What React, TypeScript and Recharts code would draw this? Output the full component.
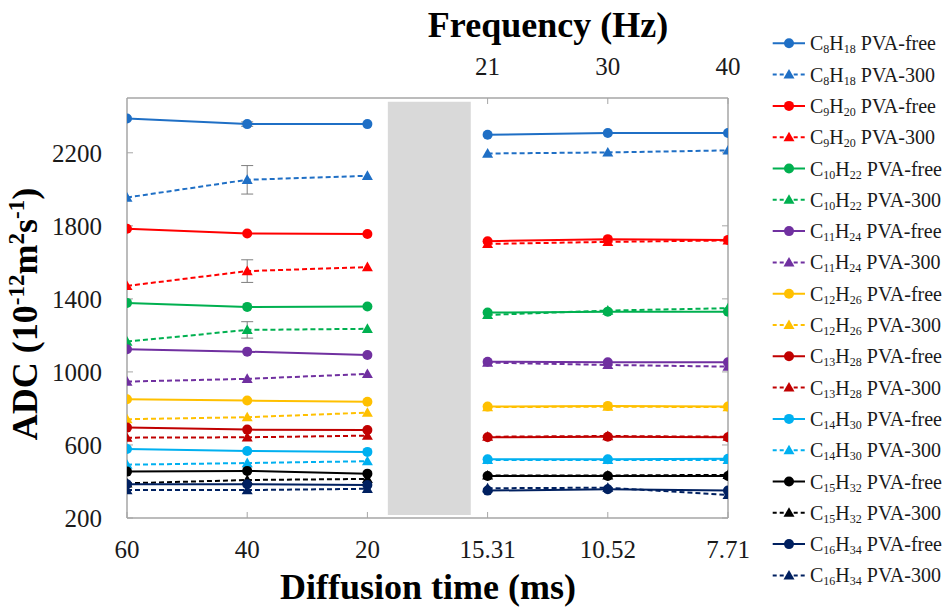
import React from 'react';
import { LineChart, Line, XAxis, YAxis, ReferenceArea, ErrorBar, Legend, Label } from 'recharts';

const diffusionTimes = ['60', '40', '20', '15.31', '10.52', '7.71'];
const frequencies = ['21', '30', '40'];
const yTicks = [200, 600, 1000, 1400, 1800, 2200];

const c8Free = [2388, 2357, 2357, 2299, 2308, 2308];
const c8Pva = [1955, 2052, 2074, 2196, 2202, 2213];
const c9Free = [1784, 1758, 1755, 1716, 1727, 1723];
const c9Pva = [1471, 1552, 1574, 1701, 1712, 1720];
const c10Free = [1378, 1356, 1358, 1325, 1330, 1330];
const c10Pva = [1166, 1230, 1236, 1312, 1336, 1349];
const c11Free = [1124, 1111, 1093, 1056, 1053, 1053];
const c11Pva = [947, 962, 989, 1051, 1038, 1029];
const c12Free = [850, 843, 837, 810, 814, 810];
const c12Pva = [741, 752, 777, 807, 810, 807];
const c13Free = [695, 684, 682, 642, 645, 642];
const c13Pva = [640, 642, 651, 645, 649, 645];
const c14Free = [578, 567, 562, 522, 522, 524];
const c14Pva = [492, 501, 511, 518, 518, 518];
const c15Free = [454, 458, 443, 430, 430, 430];
const c15Pva = [390, 408, 414, 433, 433, 436];
const c16Free = [385, 385, 381, 350, 357, 350];
const c16Pva = [353, 353, 360, 363, 366, 326];

const c8FreeErr = [null, 12, null, null, null, null];
const c8PvaErr = [null, 78, null, null, null, null];
const c9PvaErr = [null, 62, null, null, null, null];
const c10PvaErr = [null, 45, null, null, null, null];

const compounds = [
  { c: '8', h: '18', color: '#1F6FC5', free: c8Free, pva: c8Pva, freeErr: c8FreeErr, pvaErr: c8PvaErr },
  { c: '9', h: '20', color: '#FF0000', free: c9Free, pva: c9Pva, freeErr: null, pvaErr: c9PvaErr },
  { c: '10', h: '22', color: '#00B050', free: c10Free, pva: c10Pva, freeErr: null, pvaErr: c10PvaErr },
  { c: '11', h: '24', color: '#7030A0', free: c11Free, pva: c11Pva, freeErr: null, pvaErr: null },
  { c: '12', h: '26', color: '#FFC000', free: c12Free, pva: c12Pva, freeErr: null, pvaErr: null },
  { c: '13', h: '28', color: '#C00000', free: c13Free, pva: c13Pva, freeErr: null, pvaErr: null },
  { c: '14', h: '30', color: '#00B0F0', free: c14Free, pva: c14Pva, freeErr: null, pvaErr: null },
  { c: '15', h: '32', color: '#000000', free: c15Free, pva: c15Pva, freeErr: null, pvaErr: null },
  { c: '16', h: '34', color: '#002060', free: c16Free, pva: c16Pva, freeErr: null, pvaErr: null },
];

type Series = { key: string; c: string; h: string; color: string; kind: 'free' | 'pva'; values: number[]; err: (number | null)[] | null };
const series: Series[] = [];
compounds.forEach((cp) => {
  series.push({ key: `c${cp.c}free`, c: cp.c, h: cp.h, color: cp.color, kind: 'free', values: cp.free, err: cp.freeErr });
  series.push({ key: `c${cp.c}pva`, c: cp.c, h: cp.h, color: cp.color, kind: 'pva', values: cp.pva, err: cp.pvaErr });
});

const data: any[] = [];
diffusionTimes.forEach((_, i) => {
  if (i === 3) data.push({ x: 2.5 });
  const row: any = { x: i };
  series.forEach((s) => {
    row[s.key] = s.values[i];
    if (s.err && s.err[i] != null) row[s.key + '_e'] = s.err[i];
  });
  data.push(row);
});

const FONT = '"Liberation Serif", "Times New Roman", serif';
const AXIS = '#A6A6A6';
const TICK = { fill: '#1A1A1A', fontSize: 25, fontFamily: FONT };

const makeDot = (color: string, kind: 'free' | 'pva') => (props: any) => {
  const { cx, cy, index } = props;
  if (cx == null || cy == null || isNaN(cy)) return <g key={`d-${index}`} />;
  if (kind === 'free') return <circle key={`d-${index}`} cx={cx} cy={cy} r={5} fill={color} stroke="none" />;
  const s = 5.5;
  return <path key={`d-${index}`} d={`M${cx},${cy - s} L${cx + s},${cy + s * 0.75} L${cx - s},${cy + s * 0.75} Z`} fill={color} stroke="none" />;
};

const renderLegend = () => (
  <svg width={189} height={580} style={{ fontFamily: FONT }}>
    {series.map((s, i) => {
      const cy = 17.3 + i * 31.3;
      return (
        <g key={s.key}>
          <line x1={12.7} x2={45} y1={cy} y2={cy} stroke={s.color} strokeWidth={2} strokeDasharray={s.kind === 'pva' ? '4 3' : undefined} />
          {s.kind === 'free' ? (
            <circle cx={29} cy={cy} r={5} fill={s.color} />
          ) : (
            <path d={`M29,${cy - 5.5} L34.5,${cy + 4} L23.5,${cy + 4} Z`} fill={s.color} />
          )}
          <text x={50} y={cy + 7} fontSize={20} fill="#1A1A1A" fontFamily={FONT}>
            C<tspan fontSize={12} dy={3}>{s.c}</tspan>
            <tspan dy={-3}>H</tspan>
            <tspan fontSize={12} dy={3}>{s.h}</tspan>
            <tspan dy={-3}>{s.kind === 'free' ? ' PVA-free' : ' PVA-300'}</tspan>
          </text>
        </g>
      );
    })}
  </svg>
);

const TopTitle = () => (
  <text x={548} y={37} textAnchor="middle" fontSize={36} fontWeight="bold" fill="#000" fontFamily={FONT}>Frequency (Hz)</text>
);
const BottomTitle = () => (
  <text x={428} y={599} textAnchor="middle" fontSize={36} fontWeight="bold" fill="#000" fontFamily={FONT}>Diffusion time (ms)</text>
);
const YTitle = () => (
  <text x={37} y={314} transform="rotate(-90, 37, 314)" textAnchor="middle" fontSize={36} fontWeight="bold" fill="#000" fontFamily={FONT}>
    ADC (10<tspan fontSize={23} dy={-13}>-12</tspan>
    <tspan dy={13}>m</tspan>
    <tspan fontSize={23} dy={-13}>2</tspan>
    <tspan dy={13}>s</tspan>
    <tspan fontSize={23} dy={-13}>-1</tspan>
    <tspan dy={13}>)</tspan>
  </text>
);

export default function App() {
  return (
    <div style={{ position: 'absolute', left: 0, top: 0, width: 949, height: 607, background: '#fff', fontFamily: FONT }}>
      <LineChart width={949} height={607} data={data} margin={{ top: 0, right: 220, bottom: 0, left: 0 }}>
        <XAxis
          xAxisId="b"
          dataKey="x"
          type="number"
          domain={[0, 5]}
          ticks={[0, 1, 2, 3, 4, 5]}
          tickFormatter={(v: number) => diffusionTimes[v] ?? ''}
          orientation="bottom"
          height={89}
          tickSize={-6}
          tickMargin={28}
          tick={TICK}
          stroke={AXIS}
          axisLine={{ stroke: AXIS, strokeWidth: 1.5 }}
          tickLine={{ stroke: AXIS }}
          allowDataOverflow
        >
          <Label content={<BottomTitle />} />
        </XAxis>
        <XAxis
          xAxisId="t"
          dataKey="x"
          type="number"
          domain={[0, 5]}
          ticks={[3, 4, 5]}
          tickFormatter={(v: number) => frequencies[v - 3] ?? ''}
          orientation="top"
          height={98}
          tickSize={-6}
          tickMargin={29}
          tick={TICK}
          stroke={AXIS}
          axisLine={{ stroke: AXIS, strokeWidth: 1.5 }}
          tickLine={{ stroke: AXIS }}
          allowDataOverflow
        >
          <Label content={<TopTitle />} />
        </XAxis>
        <YAxis
          yAxisId="l"
          type="number"
          domain={[200, 2500]}
          ticks={yTicks}
          width={127}
          tickSize={-6}
          tickMargin={31}
          tick={TICK}
          stroke={AXIS}
          axisLine={{ stroke: AXIS, strokeWidth: 1.5 }}
          tickLine={{ stroke: AXIS }}
          allowDataOverflow
        >
          <Label content={<YTitle />} />
        </YAxis>
        <YAxis
          yAxisId="r"
          orientation="right"
          type="number"
          domain={[200, 2500]}
          ticks={yTicks}
          width={1}
          tickSize={-6}
          tickFormatter={() => ''}
          stroke={AXIS}
          axisLine={{ stroke: AXIS, strokeWidth: 1.5 }}
          tickLine={{ stroke: AXIS }}
          allowDataOverflow
        />
        <ReferenceArea xAxisId="b" yAxisId="l" x1={2.17} x2={2.86} y1={216} y2={2479} fill="#D9D9D9" fillOpacity={1} stroke="none" />
        {series.map((s) => (
          <Line
            key={s.key}
            xAxisId="b"
            yAxisId="l"
            type="linear"
            dataKey={s.key}
            stroke={s.color}
            strokeWidth={2}
            strokeDasharray={s.kind === 'pva' ? '5 3' : undefined}
            dot={makeDot(s.color, s.kind)}
            activeDot={false}
            connectNulls={false}
            isAnimationActive={false}
            legendType="none"
          >
            {s.err ? <ErrorBar dataKey={s.key + '_e'} width={6} stroke="#7F7F7F" strokeWidth={1} direction="y" isAnimationActive={false} /> : null}
          </Line>
        ))}
        <Legend
          content={renderLegend}
          layout="vertical"
          align="center"
          verticalAlign="middle"
          wrapperStyle={{ left: 760, top: 26, width: 189, height: 580 }}
        />
      </LineChart>
    </div>
  );
}
